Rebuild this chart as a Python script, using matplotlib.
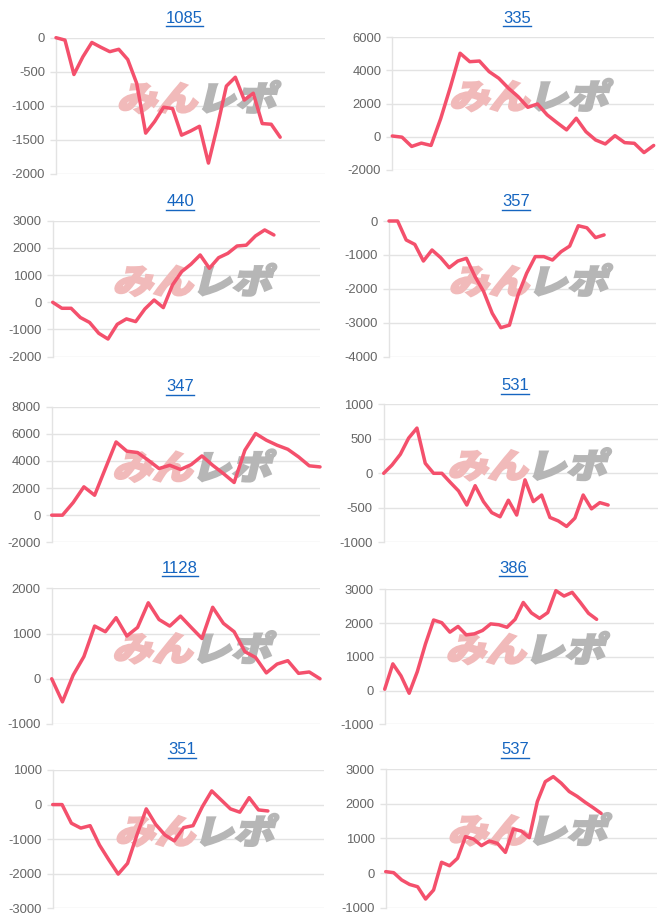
import matplotlib
matplotlib.use("Agg")
import matplotlib.pyplot as plt
from matplotlib.lines import Line2D
from matplotlib.textpath import TextPath
from matplotlib.patches import PathPatch
from matplotlib.font_manager import FontProperties
import matplotlib.transforms as mtrans
import numpy as np

# ---------------- data ----------------
titles = ["1085", "335", "440", "357", "347", "531", "1128", "386", "351", "537"]

s1085 = [0, -35, -540, -280, -70, -140, -205, -170, -320, -670, -1400, -1230, -1020, -1040,
         -1430, -1370, -1300, -1840, -1300, -710, -580, -915, -815, -1260, -1270, -1460]
s335 = [50, -20, -580, -380, -520, 1100, 3000, 5040, 4530, 4570, 3930, 3530, 2930, 2420,
        1780, 1980, 1320, 860, 420, 1120, 310, -190, -430, 70, -350, -390, -950, -520]
s440 = [0, -220, -220, -560, -740, -1140, -1350, -810, -610, -710, -245, 85, -195, 640,
        1130, 1400, 1740, 1250, 1640, 1800, 2070, 2100, 2440, 2660, 2475]
s357 = [0, 0, -560, -690, -1180, -855, -1080, -1375, -1180, -1100, -1640, -2080, -2720,
        -3145, -3070, -2180, -1540, -1050, -1050, -1150, -905, -740, -140, -200, -490, -410]
s347 = [0, 0, 930, 2090, 1470, 3440, 5400, 4720, 4620, 4050, 3440, 3680, 3370, 3730, 4370,
        3680, 3070, 2410, 4790, 6020, 5530, 5160, 4860, 4300, 3640, 3560]
s531 = [0, 120, 275, 510, 655, 145, 0, 0, -130, -255, -460, -180, -410, -570, -630, -390,
        -605, -95, -410, -315, -640, -690, -770, -650, -315, -515, -425, -460]
s1128 = [0, -510, 80, 490, 1165, 1040, 1350, 945, 1135, 1680, 1310, 1165, 1385, 1135, 890,
         1580, 1225, 1040, 600, 470, 130, 325, 400, 120, 150, 0]
s386 = [40, 790, 435, -80, 560, 1380, 2090, 2010, 1730, 1900, 1650, 1680, 1780, 1975, 1950,
        1875, 2110, 2610, 2300, 2140, 2310, 2960, 2800, 2910, 2610, 2290, 2110]
s351 = [0, 0, -540, -680, -610, -1170, -1600, -2010, -1700, -880, -125, -570, -880, -1050,
        -665, -610, -60, 395, 135, -125, -220, 200, -155, -185]
s537 = [40, 10, -200, -330, -395, -750, -490, 310, 210, 425, 1050, 980, 790, 925, 855, 595,
        1270, 1210, 1020, 2060, 2635, 2780, 2590, 2350, 2210, 2040, 1885, 1720]

series = [s1085, s335, s440, s357, s347, s531, s1128, s386, s351, s537]
# number of category slots on each x axis
slots = [31, 28, 30, 32, 26, 34, 26, 34, 30, 35]
# y ticks
yticks = [
    [-2000, -1500, -1000, -500, 0],
    [-2000, 0, 2000, 4000, 6000],
    [-2000, -1000, 0, 1000, 2000, 3000],
    [-4000, -3000, -2000, -1000, 0],
    [-2000, 0, 2000, 4000, 6000, 8000],
    [-1000, -500, 0, 500, 1000],
    [-1000, 0, 1000, 2000],
    [-1000, 0, 1000, 2000, 3000],
    [-3000, -2000, -1000, 0, 1000],
    [-1000, 0, 1000, 2000, 3000],
]

# ---------------- layout (pixels: left, right, top, bottom) ----------------
W, H = 666, 918
rects = [
    (56, 325, 37.7, 174), (392.3, 653.7, 37.3, 170),
    (52.7, 320, 220.7, 356.7), (389, 655.7, 221, 356.7),
    (51.7, 320, 406.7, 542.3), (383.7, 658, 404.3, 542.3),
    (51.7, 320, 588.3, 724), (384.7, 653.7, 589.3, 724.3),
    (52.7, 324, 770, 908.3), (385.7, 657, 769, 907.7),
]
title_y = [18.3, 18.3, 201.7, 201.7, 386.7, 385.5, 568.3, 568.3, 750, 750]

LINE = "#f4506c"
GRID = "#e3e3e3"
TICK = "#666666"
LINK = "#1565c0"

fig = plt.figure(figsize=(W / 100, H / 100), dpi=100)
fig.patch.set_facecolor("white")

cjk = FontProperties(family=["Noto Sans CJK JP"], weight="black")


def watermark(ax):
    size = 34
    p1 = TextPath((0, 0), "みん", size=size, prop=cjk)
    p2 = TextPath((0, 0), "レポ", size=size, prop=cjk)
    e1 = p1.get_extents()
    e2 = p2.get_extents()
    sx = 1.18
    gap = 7
    total = (e1.width + e2.width) * sx + gap
    hgt = max(e1.y1, e2.y1)
    base = mtrans.ScaledTranslation(0.535, 0.575, ax.transAxes)
    t1 = (mtrans.Affine2D().translate(-e1.x0, 0).scale(sx, 1)
          .translate(-total / 2, -hgt / 2).skew_deg(14, 0) + base)
    t2 = (mtrans.Affine2D().translate(-e2.x0, 0).scale(sx, 1)
          .translate(-total / 2 + e1.width * sx + gap, -hgt / 2).skew_deg(14, 0) + base)
    ax.add_patch(PathPatch(p1, transform=t1, facecolor="#f1baba", edgecolor="#f1baba",
                           lw=1.6, zorder=1.5, clip_on=False))
    ax.add_patch(PathPatch(p2, transform=t2, facecolor="#b6b6b6", edgecolor="#b6b6b6",
                           lw=1.6, zorder=1.5, clip_on=False))


axes = []
title_texts = []
for i, (ttl, ys, n, yt, r) in enumerate(zip(titles, series, slots, yticks, rects)):
    l, rr, t, b = r
    ax = fig.add_axes([l / W, 1 - b / H, (rr - l) / W, (b - t) / H])
    x = np.arange(len(ys))
    ax.plot(x, ys, color=LINE, lw=2.5, solid_joinstyle="round", solid_capstyle="round",
            zorder=3, clip_on=False)
    ax.set_xlim(0, n - 1)
    ax.set_ylim(yt[0], yt[-1])
    ax.set_yticks(yt)
    ax.set_yticklabels([str(v) for v in yt])
    ax.set_xticks([])
    ax.grid(axis="y", color=GRID, lw=1.0, zorder=0)
    for side in ["top", "right", "bottom"]:
        ax.spines[side].set_visible(False)
    ax.spines["left"].set_color(GRID)
    ax.spines["left"].set_linewidth(1.0)
    ax.tick_params(axis="y", length=4.5, width=1.0, color=GRID, labelcolor=TICK,
                   labelsize=9.4, pad=3.5)
    for lab in ax.get_yticklabels():
        lab.set_fontfamily(["Liberation Sans", "DejaVu Sans"])
    ax.set_axisbelow(True)
    watermark(ax)
    cx = (l + rr) / 2 - 6
    tt = fig.text(cx / W, 1 - title_y[i] / H, ttl, ha="center", va="center",
                  color=LINK, fontsize=12, family=["Liberation Sans", "DejaVu Sans"])
    title_texts.append(tt)
    axes.append(ax)

# underline the link-style titles
fig.canvas.draw()
renderer = fig.canvas.get_renderer()
for tt in title_texts:
    bb = tt.get_window_extent(renderer)
    yline = bb.y0 - 0.5
    fig.add_artist(Line2D([bb.x0 / W, bb.x1 / W], [yline / H, yline / H],
                          transform=fig.transFigure, color=LINK, lw=1.0))

fig.savefig("out.png", dpi=100, facecolor="white")
